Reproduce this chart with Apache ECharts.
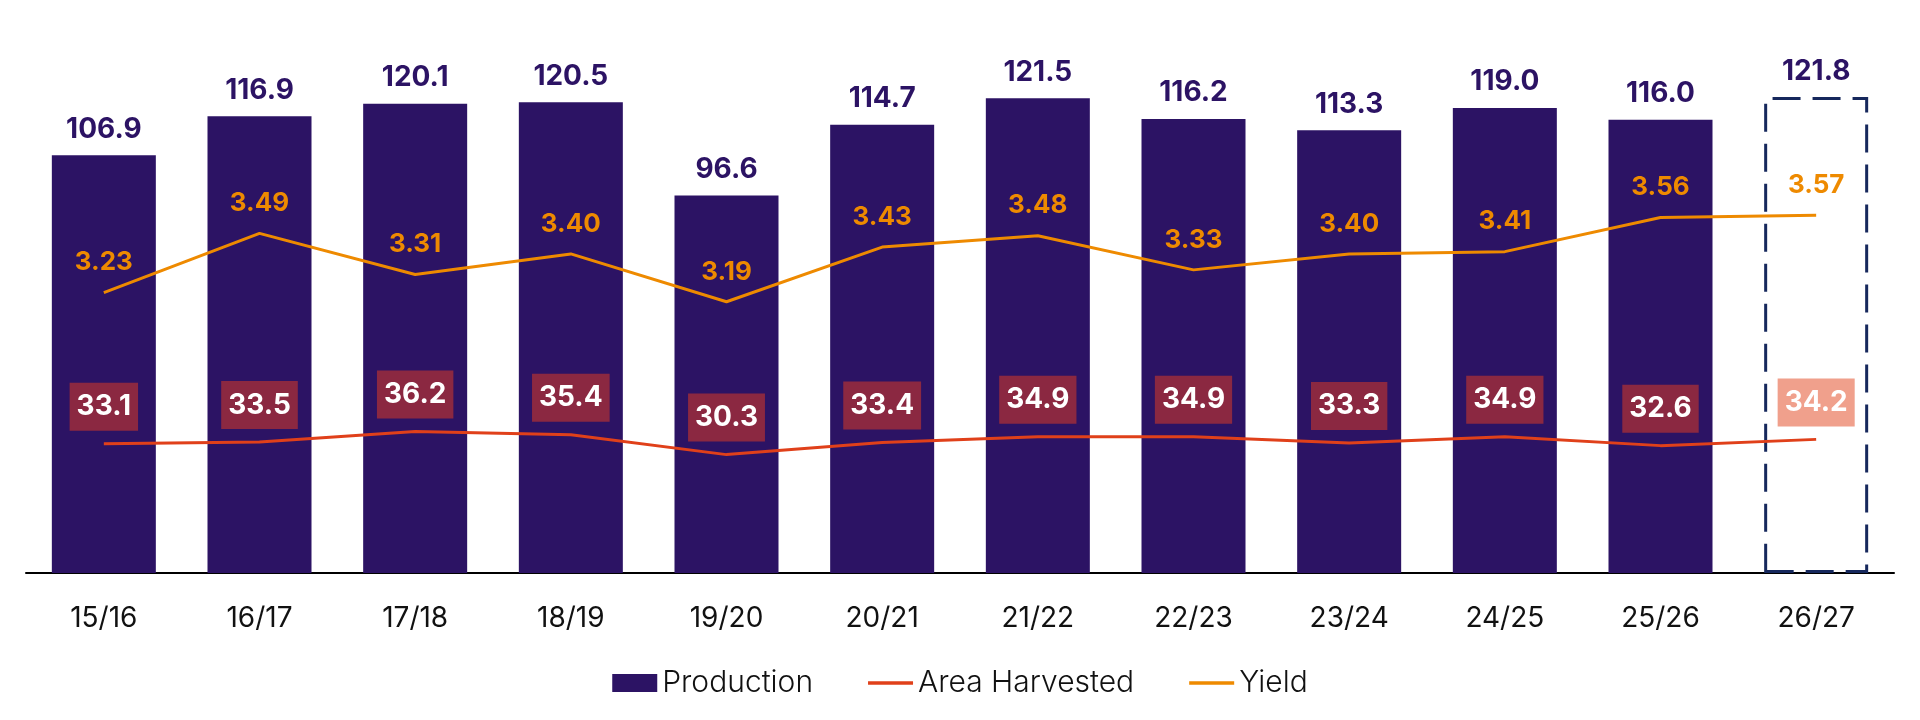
<!DOCTYPE html>
<html>
<head>
<meta charset="utf-8">
<style>
  html, body { margin: 0; padding: 0; background: #ffffff; }
  #chart { width: 1920px; height: 720px; }
</style>
<script src="https://cdn.jsdelivr.net/npm/echarts@6/dist/echarts.min.js"></script>
</head>
<body>
<div id="chart"></div>
<script>
const categories = ['15/16','16/17','17/18','18/19','19/20','20/21','21/22','22/23','23/24','24/25','25/26','26/27'];
const production = [106.9,116.9,120.1,120.5,96.6,114.7,121.5,116.2,113.3,119.0,116.0,121.8];
const areaHarvested = [33.1,33.5,36.2,35.4,30.3,33.4,34.9,34.9,33.3,34.9,32.6,34.2];
const yieldValues = [3.23,3.49,3.31,3.40,3.19,3.43,3.48,3.33,3.40,3.41,3.56,3.57];

const FONT = 'Inter, "Noto Sans", sans-serif';
const PURPLE = '#2C1364';
const ORANGE = '#EE8A00';
const RED = '#E0401A';
const MAROON = '#8B2841';
const SALMON = '#F0A08C';
const NAVY = '#16285C';
const lastIdx = categories.length - 1;

const prodData = production.map((v, i) => i === lastIdx ? {
  value: v,
  itemStyle: { color: 'rgba(0,0,0,0)', borderColor: NAVY, borderWidth: 3, borderType: [28, 12] }
} : v);

const areaData = areaHarvested.map((v, i) => i === lastIdx ? {
  value: v,
  label: { backgroundColor: SALMON }
} : v);

const chart = echarts.init(document.getElementById('chart'), null, { renderer: 'canvas' });
chart.setOption({
  animation: false,
  textStyle: { fontFamily: FONT },
  grid: { left: 26, right: 26, top: 26, bottom: 147 },
  legend: {
    top: 663,
    left: 'center',
    itemWidth: 45,
    itemHeight: 18,
    itemGap: 55,
    textStyle: { fontFamily: FONT, fontSize: 30, fontWeight: 300, color: '#111111' },
    data: [
      { name: 'Production', icon: 'rect' },
      { name: 'Area Harvested', icon: 'path://M0 0H150V12H0Z' },
      { name: 'Yield', icon: 'path://M0 0H150V12H0Z' }
    ]
  },
  xAxis: {
    type: 'category',
    data: categories,
    axisLine: { show: true, lineStyle: { color: '#000000', width: 2 } },
    axisTick: { show: false },
    axisLabel: { fontFamily: FONT, fontSize: 28, color: '#111111', margin: 32 }
  },
  yAxis: [
    { type: 'value', min: 0, max: 140, show: false, splitLine: { show: false } },
    { type: 'value', min: 2, max: 4.4, show: false, splitLine: { show: false } }
  ],
  series: [
    {
      name: 'Production',
      type: 'bar',
      data: prodData,
      barWidth: 104,
      itemStyle: { color: PURPLE },
      z: 1,
      label: {
        show: true,
        position: 'top',
        distance: 12,
        fontFamily: FONT,
        fontSize: 28,
        fontWeight: 'bold',
        color: PURPLE,
        formatter: p => Number(p.value).toFixed(1)
      }
    },
    {
      name: 'Area Harvested',
      type: 'line',
      yAxisIndex: 0,
      data: areaData,
      symbol: 'circle',
      symbolSize: 0,
      showSymbol: true,
      lineStyle: { color: RED, width: 3 },
      itemStyle: { color: RED },
      z: 3,
      label: {
        show: true,
        position: 'top',
        distance: 13,
        fontFamily: FONT,
        fontSize: 28,
        fontWeight: 'bold',
        color: '#ffffff',
        backgroundColor: MAROON,
        lineHeight: 34,
        padding: [7, 7, 7, 7],
        formatter: p => Number(p.value).toFixed(1)
      }
    },
    {
      name: 'Yield',
      type: 'line',
      yAxisIndex: 1,
      data: yieldValues,
      symbol: 'circle',
      symbolSize: 0,
      showSymbol: true,
      lineStyle: { color: ORANGE, width: 3 },
      itemStyle: { color: ORANGE },
      z: 3,
      label: {
        show: true,
        position: 'top',
        distance: 17,
        fontFamily: FONT,
        fontSize: 26,
        fontWeight: 'bold',
        color: ORANGE,
        formatter: p => Number(p.value).toFixed(2)
      }
    }
  ]
});
</script>
</body>
</html>
